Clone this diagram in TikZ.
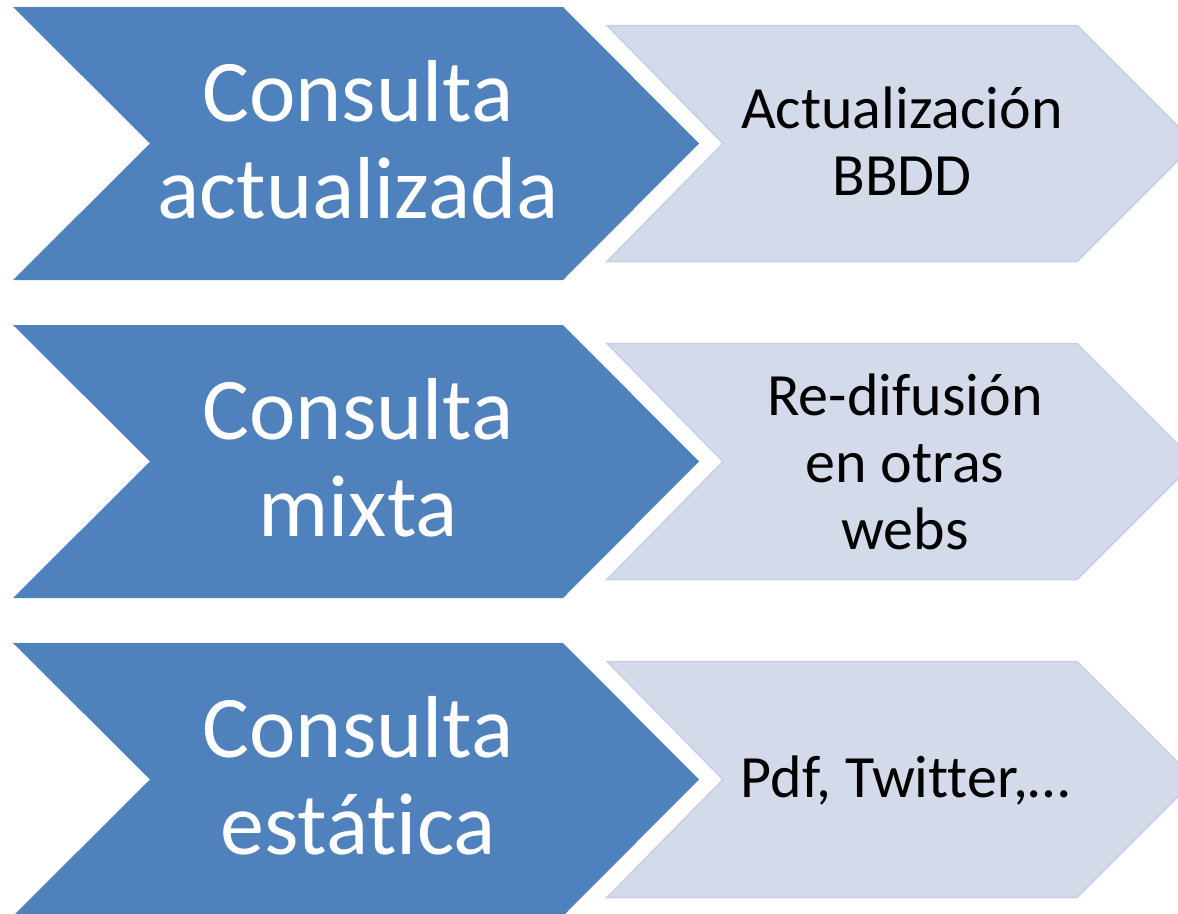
\documentclass[tikz,border=0pt]{standalone}
\usepackage{fontspec}
\setmainfont[Ligatures=NoCommon]{Carlito}
\usepackage{xcolor}

\definecolor{chevblue}{HTML}{4F81BD}
\definecolor{chevlight}{HTML}{D3DAEA}
\definecolor{chevedge}{HTML}{C7CFE4}

\begin{document}
\begin{tikzpicture}[x=1pt, y=-1pt,
    bigchev/.style={fill=chevblue},
    smallchev/.style={fill=chevlight, draw=chevedge, line width=1.5pt, line join=miter},
    bigtext/.style={text=white, align=center, font=\fontsize{88}{97}\selectfont},
    smalltext/.style={text=black, align=center, font=\fontsize{60}{67}\selectfont}]
            \path[use as bounding box, clip] (0,0) rectangle (1178,913);

            % Row 1 - Consulta actualizada
            \fill[bigchev] (13,7) -- (563,7) -- (699,143.5) -- (563,280) -- (13,280) -- (150,143.5) -- cycle;
            \filldraw[smallchev] (607,25.5) -- (1077,25.5) -- (1195,143.5) -- (1077,261.5) -- (607,261.5) -- (723,143.5) -- cycle;
            \node[bigtext] (cact) at (358,140) {Consulta\\actualizada};
            \node[smalltext] (bbdd) at (902,141) {Actualización\\BBDD};

            % Row 2 - Consulta mixta
            \fill[bigchev] (13,325) -- (563,325) -- (699,461.5) -- (563,598) -- (13,598) -- (150,461.5) -- cycle;
            \filldraw[smallchev] (607,343.5) -- (1077,343.5) -- (1195,461.5) -- (1077,579.5) -- (607,579.5) -- (723,461.5) -- cycle;
            \node[bigtext] (cmix) at (358,458) {Consulta\\mixta};
            \node[smalltext] (redif) at (905,461.5) {Re-difusión\\en otras\\webs};

            % Row 3 - Consulta estatica
            \fill[bigchev] (13,643) -- (563,643) -- (699,779.5) -- (563,916) -- (13,916) -- (150,779.5) -- cycle;
            \filldraw[smallchev] (607,661.5) -- (1077,661.5) -- (1195,779.5) -- (1077,897.5) -- (607,897.5) -- (723,779.5) -- cycle;
            \node[bigtext] (cest) at (358,776) {Consulta\\estática};
            \node[smalltext] (pdf) at (905,780) {Pdf, Twitter,…};
\end{tikzpicture}
\end{document}
